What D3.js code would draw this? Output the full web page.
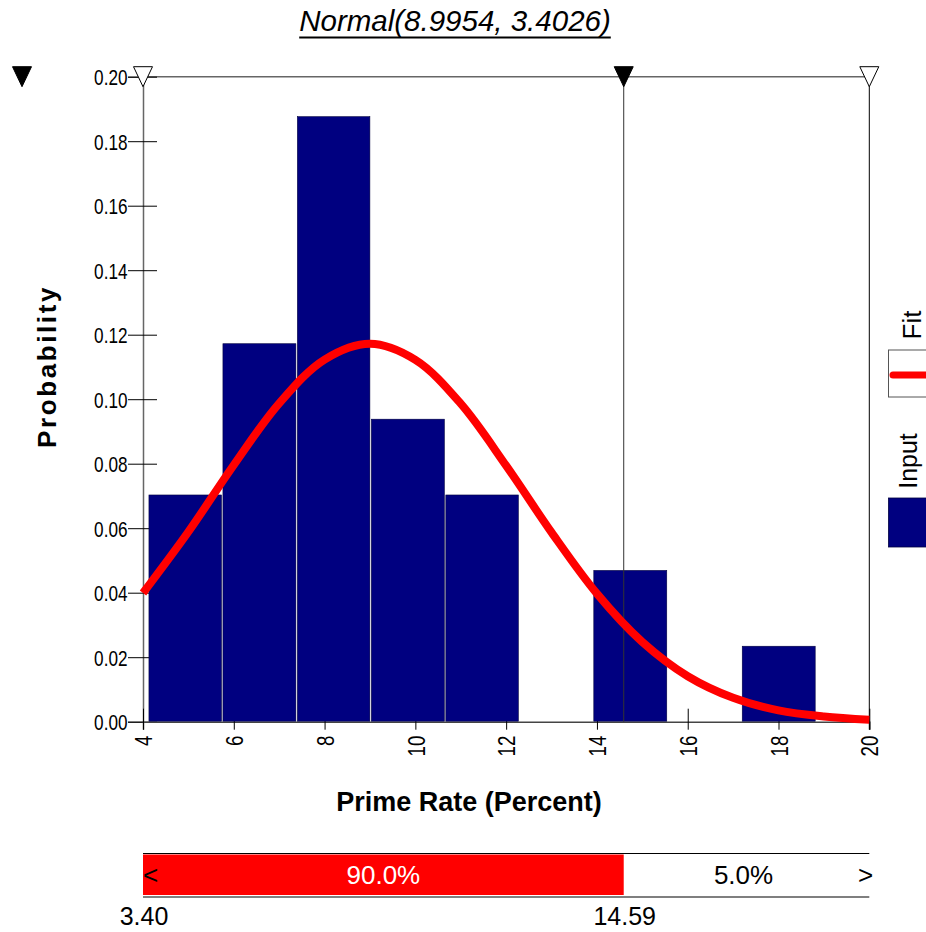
<!DOCTYPE html>
<html>
<head>
<meta charset="utf-8">
<script src="https://cdn.jsdelivr.net/npm/d3@7/dist/d3.min.js"></script>
<style>
  html, body { margin: 0; padding: 0; background: #fff; }
  svg { display: block; font-family: "Liberation Sans", Arial, sans-serif; }
</style>
</head>
<body>
<svg id="chart" width="926" height="932"></svg>
<script>
// Histogram bins (Prime Rate, percent) and their probability densities
const binEdges = [4.12, 5.75, 7.39, 9.02, 10.66, 12.29, 13.92, 15.56, 17.19, 18.83];
const binValues = [0.0703, 0.1172, 0.1876, 0.0938, 0.0703, 0, 0.0469, 0, 0.0234];

// Fitted Normal(8.9954, 3.4026) density, sampled along the x axis
const fitX = [4, 5, 6, 7, 8, 9, 10, 11, 12, 13, 14, 15, 16, 17, 18, 19, 20];
const fitY = [0.0399, 0.0589, 0.0796, 0.0987, 0.1123, 0.1172, 0.1122, 0.0986, 0.0794,
              0.0587, 0.0397, 0.0247, 0.0141, 0.0074, 0.0035, 0.0016, 0.0006];

const xTicks = [4, 6, 8, 10, 12, 14, 16, 18, 20];
const yTicks = [0, 0.02, 0.04, 0.06, 0.08, 0.10, 0.12, 0.14, 0.16, 0.18, 0.20];

// Delimiters and the probability in each region
const delimiters = [3.40, 14.59];
const regionLabels = ["90.0%", "5.0%"];

const titleText = "Normal(8.9954, 3.4026)";
const xTitle = "Prime Rate (Percent)";
const yTitle = "Probability";

const svg = d3.select("#chart");
const NAVY = "#000080";
const RED = "#ff0000";

const x = d3.scaleLinear().domain([4, 20]).range([143, 869.3]).clamp(true);
const y = d3.scaleLinear().domain([0, 0.2]).range([721.7, 76.7]);
const SQ = 0.78; // horizontal squeeze for the condensed tick labels

// Title
const title = svg.append("text")
  .attr("x", 455).attr("y", 31)
  .attr("text-anchor", "middle")
  .attr("font-size", 29.5).attr("font-style", "italic")
  .text(titleText);
const tw = title.node().getComputedTextLength();
svg.append("line")
  .attr("x1", 455 - tw / 2).attr("x2", 455 + tw / 2)
  .attr("y1", 37.5).attr("y2", 37.5)
  .attr("stroke", "#000").attr("stroke-width", 2.2);

// Top frame line
svg.append("line")
  .attr("x1", x(4)).attr("x2", x(20))
  .attr("y1", y(0.2)).attr("y2", y(0.2))
  .attr("stroke", "#666").attr("stroke-width", 1.5);

// Y axis
const gy = svg.append("g")
  .attr("transform", `translate(${x(4)},0)`)
  .call(d3.axisLeft(y).tickValues(yTicks).tickFormat(d3.format(".2f")).tickSizeOuter(0).tickSize(15));
gy.select(".domain").attr("stroke", "#666").attr("stroke-width", 1.5);
gy.selectAll(".tick line").attr("x1", 14).attr("x2", -15).attr("stroke", "#000");
gy.selectAll(".tick text")
  .attr("font-size", 22).attr("font-family", "'Liberation Sans', Arial, sans-serif")
  .attr("fill", "#000")
  .attr("x", -15.5 / SQ).attr("dy", "0.36em")
  .attr("transform", `scale(${SQ},1)`);

// X axis
const gx = svg.append("g")
  .attr("transform", `translate(0,${y(0)})`)
  .call(d3.axisBottom(x).tickValues(xTicks).tickFormat(d3.format("d")).tickSizeOuter(0).tickSize(8));
gx.select(".domain").attr("stroke", "#444").attr("stroke-width", 1.5);
gx.selectAll(".tick line").attr("y1", -13).attr("y2", 8).attr("stroke", "#000");
gx.selectAll(".tick text")
  .attr("font-size", 24).attr("font-family", "'Liberation Sans', Arial, sans-serif")
  .attr("fill", "#000")
  .attr("text-anchor", "end")
  .attr("x", -14 / SQ).attr("y", 0).attr("dy", "0.36em")
  .attr("transform", `rotate(-90) scale(${SQ},1)`);

// Right frame line at the upper end of the axis
svg.append("line")
  .attr("x1", x(20)).attr("x2", x(20))
  .attr("y1", y(0.2)).attr("y2", y(0) + 8)
  .attr("stroke", "#000").attr("stroke-width", 1);

// Histogram bars
const bins = binValues.map((v, i) => ({ x0: binEdges[i], x1: binEdges[i + 1], v }));
svg.append("g").selectAll("rect")
  .data(bins.filter(d => d.v > 0))
  .join("rect")
  .attr("x", d => x(d.x0) + 0.5)
  .attr("width", d => x(d.x1) - x(d.x0) - 1.5)
  .attr("y", d => y(d.v))
  .attr("height", d => y(0) - y(d.v) - 0.5)
  .attr("fill", NAVY)
  .attr("stroke", "#000040").attr("stroke-width", 0.6);

// Delimiter line at the right-hand cut point
svg.append("line")
  .attr("x1", x(delimiters[1])).attr("x2", x(delimiters[1]))
  .attr("y1", y(0.2)).attr("y2", y(0))
  .attr("stroke", "#333").attr("stroke-width", 1);

// Fitted curve
svg.append("path")
  .datum(fitX.map((v, i) => [v, fitY[i]]))
  .attr("d", d3.line().x(d => x(d[0])).y(d => y(d[1])).curve(d3.curveCatmullRom))
  .attr("fill", "none").attr("stroke", RED).attr("stroke-width", 8)
  .attr("stroke-linecap", "butt");

// Delimiter markers along the top
function tri(cx, filled) {
  const top = y(0.2) - 10, h = 20, w = 19;
  svg.append("path")
    .attr("d", `M${cx - w / 2},${top}L${cx + w / 2},${top}L${cx},${top + h}Z`)
    .attr("fill", filled ? "#000" : "#fff")
    .attr("stroke", "#000").attr("stroke-width", 1);
}
tri(22, true);                       // left delimiter lies off the axis
tri(x(delimiters[0]), false);
tri(x(delimiters[1]), true);
tri(x(20), false);

// Axis titles
svg.append("text")
  .attr("transform", `translate(56,366.5) rotate(-90)`)
  .attr("text-anchor", "middle")
  .attr("font-size", 26).attr("font-weight", "bold")
  .attr("letter-spacing", 2.6)
  .text(yTitle);
svg.append("text")
  .attr("x", 469).attr("y", 811)
  .attr("text-anchor", "middle")
  .attr("font-size", 27).attr("font-weight", "bold")
  .text(xTitle);

// Legend (partly outside the right edge)
svg.append("rect")
  .attr("x", 888.5).attr("y", 350).attr("width", 50).attr("height", 47)
  .attr("fill", "#fff").attr("stroke", "#555").attr("stroke-width", 1);
svg.append("line")
  .attr("x1", 893).attr("x2", 940).attr("y1", 375).attr("y2", 375)
  .attr("stroke", RED).attr("stroke-width", 7).attr("stroke-linecap", "round");
svg.append("text")
  .attr("transform", "translate(921,325) rotate(-90)")
  .attr("text-anchor", "middle").attr("font-size", 26)
  .text("Fit");
svg.append("rect")
  .attr("x", 888.5).attr("y", 498).attr("width", 50).attr("height", 49)
  .attr("fill", NAVY).attr("stroke", "#000040").attr("stroke-width", 0.8);
svg.append("text")
  .attr("transform", "translate(917,461) rotate(-90)")
  .attr("text-anchor", "middle").attr("font-size", 25)
  .text("Input");

// Probability bar below the chart
const barTop = 853.5, barBot = 897;
const xl = x(delimiters[0]), xr = x(delimiters[1]);
svg.append("rect")
  .attr("x", xl).attr("y", barTop + 1).attr("width", xr - xl).attr("height", barBot - barTop - 3)
  .attr("fill", RED);
[barTop, barBot].forEach(yy => svg.append("line")
  .attr("x1", x(4)).attr("x2", x(20)).attr("y1", yy).attr("y2", yy)
  .attr("stroke", "#000").attr("stroke-width", 1.2));
const midY = (barTop + barBot) / 2 + 9;
svg.append("text").attr("x", (xl + xr) / 2).attr("y", midY)
  .attr("text-anchor", "middle").attr("font-size", 26).attr("fill", "#fff")
  .text(regionLabels[0]);
svg.append("text").attr("x", (xr + x(20)) / 2 - 3).attr("y", midY)
  .attr("text-anchor", "middle").attr("font-size", 26).attr("fill", "#000")
  .text(regionLabels[1]);
svg.append("text").attr("x", x(4)).attr("y", midY)
  .attr("font-size", 26).text("<");
svg.append("text").attr("x", x(20) + 4).attr("y", midY)
  .attr("text-anchor", "end").attr("font-size", 26).text(">");
delimiters.forEach(d => svg.append("text")
  .attr("x", x(d) + 1).attr("y", 925)
  .attr("text-anchor", "middle").attr("font-size", 25)
  .text(d3.format(".2f")(d)));
</script>
</body>
</html>
